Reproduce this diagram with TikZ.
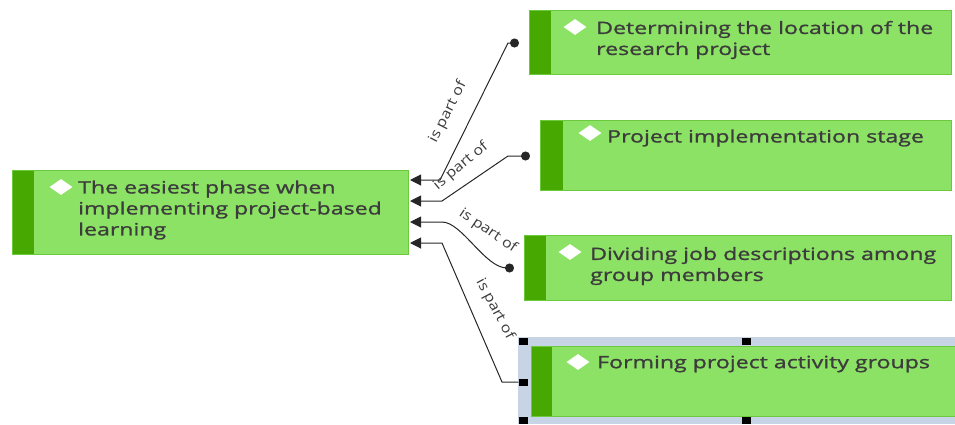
\documentclass[tikz,border=0pt]{standalone}
\usepackage{fontspec}
\setmainfont[FakeStretch=1.36,FakeBold=1.2]{Open Sans}
\newfontfamily\relfont[FakeStretch=1.15]{Open Sans}
\usetikzlibrary{arrows.meta,shapes.geometric,calc}
\definecolor{lgreen}{HTML}{8CE264}
\definecolor{dgreen}{HTML}{46A800}
\definecolor{bgreen}{HTML}{6CC83C}
\definecolor{txt}{HTML}{3C3C3C}
\definecolor{selc}{HTML}{C6D4E6}
\tikzset{
  box/.style={draw=bgreen, line width=1pt, fill=lgreen, rectangle, anchor=north west, inner sep=0pt},
  dia/.style={diamond, fill=white, draw=none, minimum width=23pt, minimum height=16pt, inner sep=0pt},
  lbl/.style={text=txt, font=\fontsize{17}{21}\selectfont, anchor=west, align=left, inner sep=0pt},
  conn/.style={draw=black!85, line width=1pt},
  rel/.style={text=txt, font=\relfont\fontsize{14}{16}\selectfont, inner sep=1pt},
  handle/.style={fill=black, draw=none, minimum width=9pt, minimum height=7pt, inner sep=0pt, rectangle}
}
\begin{document}
\begin{tikzpicture}[x=1pt,y=-1pt]
\useasboundingbox (0,0) rectangle (955,424);
% main box
\node[box, minimum width=396pt, minimum height=84pt] (b0) at (12,170) {};
\fill[dgreen] (12.5,170.5) rectangle (34,253.5);
\node[dia] (d0) at (61,187) {};
\node[lbl] (l0) at (78,210) {The easiest phase when\\implementing project-based\\learning};
% box 1
\node[box, minimum width=422pt, minimum height=64pt] (b1) at (529,10) {};
\fill[dgreen] (529.5,10.5) rectangle (551,73.5);
\node[dia] (d1) at (575,27) {};
\node[lbl] (l1) at (596,40) {Determining the location of the\\research project};
% box 2
\node[box, minimum width=411pt, minimum height=70pt] (b2) at (540,120) {};
\fill[dgreen] (540.5,120.5) rectangle (563,189.5);
\node[dia] (d2) at (590,133) {};
\node[lbl] (l2) at (607,138) {Project implementation stage};
% box 3
\node[box, minimum width=427pt, minimum height=65pt] (b3) at (524,235) {};
\fill[dgreen] (524.5,235.5) rectangle (546,299.5);
\node[dia] (d3) at (570,252) {};
\node[lbl] (l3) at (590,266) {Dividing job descriptions among\\group members};
% box 4 with selection
\fill[selc] (518,337) rectangle (955,424);
\node[box, minimum width=424pt, minimum height=70pt] (b4) at (531,346) {};
\fill[dgreen] (531.5,346.5) rectangle (552,415.5);
\node[dia] (d4) at (578,362) {};
\node[lbl] (l4) at (597,364) {Forming project activity groups};
\node[handle] (h1) at (523,341) {};
\node[handle] (h2) at (746,341) {};
\node[handle] (h3) at (523,382) {};
\node[handle] (h4) at (523,420) {};
\node[handle] (h5) at (746,420) {};
% connector end points
\coordinate (t1) at (410,180);
\coordinate (t2) at (410,201);
\coordinate (t3) at (410,222);
\coordinate (t4) at (410,243);
\coordinate (e1) at (519,43);
\coordinate (e2) at (530,156);
\coordinate (e3) at (514,268);
% connectors
\draw[conn, {Triangle[length=11pt,width=11pt]}-{Circle[length=9pt]}] (t1) -- (440,180) -- (508,43) -- (e1);
\draw[conn, {Triangle[length=11pt,width=11pt]}-{Circle[length=9pt]}] (t2) -- (442,201) -- (508,156) -- (e2);
\draw[conn, {Triangle[length=11pt,width=11pt]}-{Circle[length=9pt]}] (t3) -- (442,222) .. controls (462,222) and (485,268) .. (507,268) -- (e3);
\draw[conn, {Triangle[length=11pt,width=11pt]}-] (t4) -- (442,243) -- (502,382) -- (h3.west);
% relation labels
\node[rel, rotate=63] (r1) at (448,112) {is part of};
\node[rel, rotate=40] (r2) at (461,166) {is part of};
\node[rel, rotate=-34] (r3) at (488,231) {is part of};
\node[rel, rotate=-62] (r4) at (495,309) {is part of};
\end{tikzpicture}
\end{document}
